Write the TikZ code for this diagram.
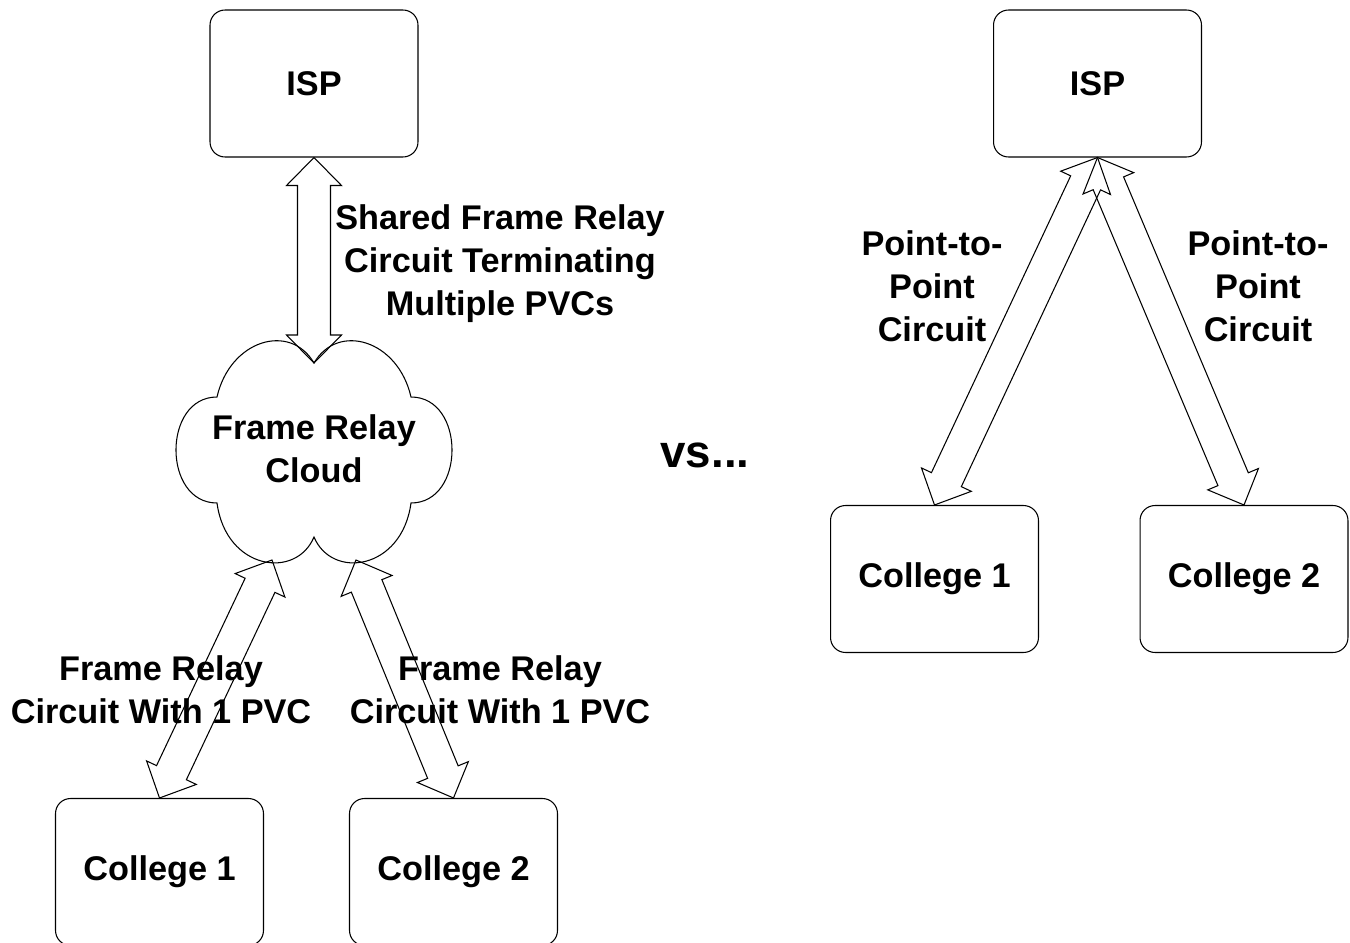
\documentclass[tikz,border=0pt]{standalone}
\usepackage{fontspec}
\setmainfont{Liberation Sans}
\usetikzlibrary{calc}

\newcommand{\lblfont}{\fontsize{19.5}{24.4}\selectfont\bfseries}
\tikzset{
	box/.style = {draw, rounded corners=0.3cm, minimum width=4.16cm, minimum height=2.94cm, font=\lblfont},
	lbl/.style = {align=center, font=\lblfont},
	% hollow block arrow with a head at both ends
	fatlink/.style = {to path={
		(\tikztostart)
		-- ($(\tikztostart)!0.56cm!(\tikztotarget)!0.55cm!90:(\tikztotarget)$)
		-- ($(\tikztostart)!0.56cm!(\tikztotarget)!0.33cm!90:(\tikztotarget)$)
		-- ($(\tikztotarget)!0.56cm!(\tikztostart)!0.33cm!-90:(\tikztostart)$)
		-- ($(\tikztotarget)!0.56cm!(\tikztostart)!0.55cm!-90:(\tikztostart)$)
		-- (\tikztotarget)
		-- ($(\tikztotarget)!0.56cm!(\tikztostart)!0.55cm!90:(\tikztostart)$)
		-- ($(\tikztotarget)!0.56cm!(\tikztostart)!0.33cm!90:(\tikztostart)$)
		-- ($(\tikztostart)!0.56cm!(\tikztotarget)!0.33cm!-90:(\tikztotarget)$)
		-- ($(\tikztostart)!0.56cm!(\tikztotarget)!0.55cm!-90:(\tikztotarget)$)
		-- cycle}}
}

\begin{document}
\begin{tikzpicture}[x=0.02cm, y=-0.02cm, line width=0.6pt]
	\useasboundingbox (0,0) rectangle (1350,943);

	% shared frame relay
	\node[box] (ispL) at (314,83.5) {ISP};
	\node[box] (colL1) at (159.5,872) {College 1};
	\node[box] (colL2) at (453.5,872) {College 2};

	\draw (314,363) .. controls (338,322) and (398,340) .. (411,397)
		.. controls (465.7,397) and (465.7,503) .. (411,503)
		.. controls (402,570) and (332,580) .. (314,537)
		.. controls (296,580) and (226,570) .. (217,503)
		.. controls (162.3,503) and (162.3,397) .. (217,397)
		.. controls (230,340) and (290,322) .. (314,363) -- cycle;
	\coordinate (cloudtop) at (314,363);
	\coordinate (cloudleft) at (272,560);
	\coordinate (cloudright) at (356,560);
	\node[lbl] (cloud) at (314,449) {Frame Relay\\Cloud};

	\node[lbl] (shared) at (500,263.5) {Shared Frame Relay\\Circuit Terminating\\Multiple PVCs};
	\node[lbl] (pvcL1) at (161,689.5) {Frame Relay\\Circuit With 1 PVC};
	\node[lbl] (pvcL2) at (500,689.5) {Frame Relay\\Circuit With 1 PVC};

	\draw[fatlink] (ispL.south) to (cloudtop);
	\draw[fatlink] (cloudleft) to (colL1.north);
	\draw[fatlink] (cloudright) to (colL2.north);

	\node[font=\fontsize{26}{30}\selectfont\bfseries] (vs) at (705,455) {vs...};

	% point-to-point
	\node[box] (ispR) at (1097.5,83.5) {ISP};
	\node[box] (colR1) at (934.5,579) {College 1};
	\node[box] (colR2) at (1244,579) {College 2};

	\node[lbl] (p2pR1) at (932,286.5) {Point-to-\\Point\\Circuit};
	\node[lbl] (p2pR2) at (1258,286.5) {Point-to-\\Point\\Circuit};

	\draw[fatlink] (ispR.south) to (colR1.north);
	\draw[fatlink] (ispR.south) to (colR2.north);
\end{tikzpicture}
\end{document}
